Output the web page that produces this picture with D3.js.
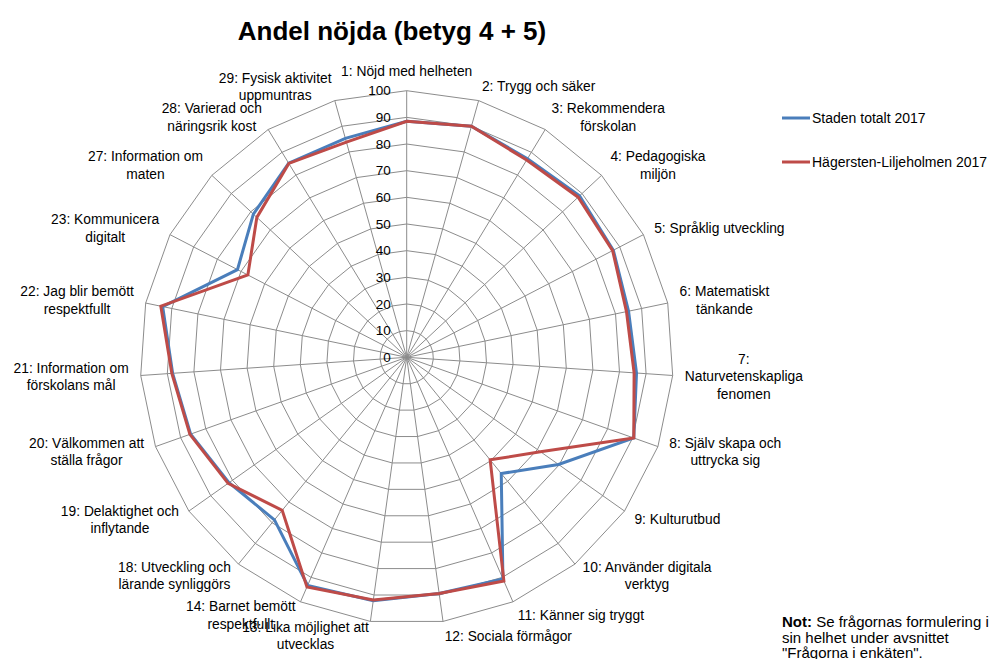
<!DOCTYPE html>
<html>
<head>
<meta charset="utf-8">
<script src="https://cdn.jsdelivr.net/npm/d3@7"></script>
<style>
  html, body { margin: 0; padding: 0; background: #fff; }
  svg { display: block; font-family: "Liberation Sans", Arial, sans-serif; }
</style>
</head>
<body>
<svg id="chart" width="995" height="659"></svg>
<script>
// ---- Data ----
const categories = [
  "1: Nöjd med helheten",
  "2: Trygg och säker",
  "3: Rekommendera\nförskolan",
  "4: Pedagogiska\nmiljön",
  "5: Språklig utveckling",
  "6: Matematiskt\ntänkande",
  "7:\nNaturvetenskapliga\nfenomen",
  "8: Själv skapa och\nuttrycka sig",
  "9: Kulturutbud",
  "10: Använder digitala\nverktyg",
  "11: Känner sig tryggt",
  "12: Sociala förmågor",
  "13: Lika möjlighet att\nutvecklas",
  "14: Barnet bemött\nrespektfullt",
  "18: Utveckling och\nlärande synliggörs",
  "19: Delaktighet och\ninflytande",
  "20: Välkommen att\nställa frågor",
  "21: Information om\nförskolans mål",
  "22: Jag blir bemött\nrespektfullt",
  "23: Kommunicera\ndigitalt",
  "27: Information om\nmaten",
  "28: Varierad och\nnäringsrik kost",
  "29: Fysisk aktivitet\nuppmuntras"
];
const stadenTotalt2017 = [88.5, 90, 87.2, 88.7, 87.3, 85, 86.4, 90.4, 69.7, 56.2, 90.6, 89.4, 92.2, 93.3, 78.6, 81.6, 86, 88, 93.5, 71.5, 78.7, 85.2, 85.3];
const hagerstenLiljeholmen2017 = [88.5, 90, 86.6, 88, 87, 84.2, 85.5, 90.4, 61.4, 49.6, 91.5, 89.4, 91.9, 93.9, 74, 82, 86.3, 88.3, 94.2, 67.1, 76.9, 85.1, 83.8];
const seriesNames = ["Staden totalt 2017", "Hägersten-Liljeholmen 2017"];
const seriesColors = ["#4a7ebb", "#be4b48"];
const ticks = [0, 10, 20, 30, 40, 50, 60, 70, 80, 90, 100];
const titleText = "Andel nöjda (betyg 4 + 5)";

// ---- Layout ----
const svg = d3.select("#chart");
const cx = 406.7, cy = 357.3, R = 266.6;
const n = categories.length;
const r = d3.scaleLinear().domain([0, 100]).range([0, R]);
const angle = d3.scaleLinear().domain([0, n]).range([0, 2 * Math.PI]);
const g = svg.append("g").attr("transform", `translate(${cx},${cy})`);

// Grid rings
const ringLine = d3.lineRadial().curve(d3.curveLinearClosed)
  .angle((d, i) => angle(i)).radius(d => r(d));
ticks.filter(t => t > 0).forEach(t => {
  g.append("path")
    .attr("d", ringLine(d3.range(n).map(() => t)))
    .attr("fill", "none").attr("stroke", "#8c8c8c").attr("stroke-width", 1);
});
// Spokes
d3.range(n).forEach(i => {
  const a = angle(i);
  g.append("line")
    .attr("x1", 0).attr("y1", 0)
    .attr("x2", r(100) * Math.sin(a)).attr("y2", -r(100) * Math.cos(a))
    .attr("stroke", "#8c8c8c").attr("stroke-width", 1);
});

// Tick labels
g.selectAll("text.tick").data(ticks).enter().append("text")
  .attr("class", "tick")
  .attr("x", -16).attr("y", d => -r(d))
  .attr("dy", "0.35em")
  .attr("text-anchor", "end")
  .attr("font-size", 13.5)
  .attr("fill", "#000")
  .text(d => d);

// Series
const seriesData = [stadenTotalt2017, hagerstenLiljeholmen2017];
seriesData.forEach((vals, si) => {
  g.append("path")
    .attr("d", ringLine(vals))
    .attr("fill", "none")
    .attr("stroke", seriesColors[si])
    .attr("stroke-width", 3)
    .attr("stroke-linejoin", "miter");
});

// Category labels
const lh = 17.5;
categories.forEach((label, i) => {
  const a = angle(i);
  const s = Math.sin(a), c = Math.cos(a);
  const ax = r(100 + 2.3) * s;
  const ay = -r(100 + 2.3) * c;
  const lines = label.split("\n");
  const centerY = Math.abs(s) < 0.05 ? ay - c * 13 : ay - c * 8.5;
  const t = g.append("text").attr("font-size", 13.8).attr("fill", "#000").attr("text-anchor", "middle");
  const spans = lines.map((ln, k) => t.append("tspan")
    .attr("y", centerY + (k - (lines.length - 1) / 2) * lh)
    .attr("dy", "0.35em")
    .text(ln));
  const w = d3.max(spans, sp => sp.node().getComputedTextLength());
  let x;
  if (s > 0.05) x = ax + 6 * s + w / 2;
  else if (s < -0.05) x = ax + 6 * s - w / 2;
  else x = ax;
  spans.forEach(sp => sp.attr("x", x));
});

// Title
svg.append("text")
  .attr("x", 392).attr("y", 31)
  .attr("dy", "0.35em")
  .attr("text-anchor", "middle")
  .attr("font-size", 26).attr("font-weight", "bold")
  .text(titleText);

// Legend
const legendY = [118, 162];
seriesNames.forEach((name, i) => {
  svg.append("line")
    .attr("x1", 782).attr("x2", 810)
    .attr("y1", legendY[i]).attr("y2", legendY[i])
    .attr("stroke", seriesColors[i]).attr("stroke-width", 3);
  svg.append("text")
    .attr("x", 812).attr("y", legendY[i]).attr("dy", "0.35em")
    .attr("font-size", 14).text(name);
});

// Note
const note = svg.append("text").attr("font-size", 15).attr("fill", "#000");
const noteLines = [[["Not:", true], [" Se frågornas formulering i", false]],
                   [["sin helhet under avsnittet", false]],
                   [["\"Frågorna i enkäten\".", false]]];
noteLines.forEach((parts, k) => {
  parts.forEach(([txt, bold], j) => {
    const sp = note.append("tspan").text(txt);
    if (j === 0) sp.attr("x", 782).attr("y", 622 + k * 15.5).attr("dy", "0.35em");
    if (bold) sp.attr("font-weight", "bold");
  });
});
</script>
</body>
</html>
